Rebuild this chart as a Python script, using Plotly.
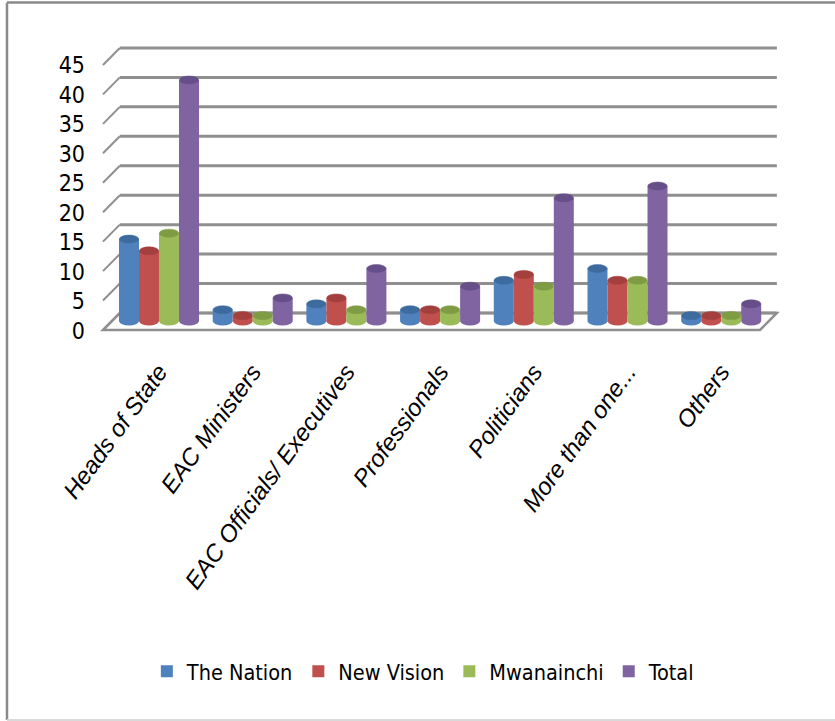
import plotly.graph_objects as go

categories = ["Heads of State", "EAC Ministers", "EAC Officials/ Executives",
              "Professionals", "Politicians", "More than one...", "Others"]
series_names = ["The Nation", "New Vision", "Mwanainchi", "Total"]
the_nation = [14, 2, 3, 2, 7, 9, 1]
new_vision = [12, 1, 4, 2, 8, 7, 1]
mwanainchi = [15, 1, 2, 2, 6, 7, 1]
total = [41, 4, 9, 6, 21, 23, 3]
y_ticks = [0, 5, 10, 15, 20, 25, 30, 35, 40, 45]

colors = ["#4F81BD", "#C0504D", "#9BBB59", "#8064A2"]
top_colors = ["#3E6B9E", "#A33F3C", "#7F9C44", "#664E88"]

series_values = [the_nation, new_vision, mwanainchi, total]

NARROW = "DejaVu Sans Condensed, Liberation Sans Narrow, sans-serif"
ITALIC = "Liberation Sans, Arial, sans-serif"

BARGAP = 0.146
n_series = len(series_values)
bw = (1 - BARGAP) / n_series

# layout geometry (pixels)
W, H = 835, 721
L, R, T, B = 100, 55, 40, 381
XMIN, XMAX = -0.6297, 6.6275
YMIN, YMAX = -3.14, 47.79
DEPTH = 1.443          # half depth of 3D box in y units
DX_BACK = 0.18         # back shift in x units
x_front_left = -0.598
x_back_left = x_front_left + DX_BACK
x_front_right = 6.414
x_back_right = x_front_right + DX_BACK

fig = go.Figure()
x_idx = list(range(len(categories)))
for name, vals, col in zip(series_names, series_values, colors):
    fig.add_trace(go.Bar(
        x=x_idx, y=vals, name=name, marker_color=col,
        marker_line=dict(width=0),
    ))

shapes = []
GRID = "#8f8f8f"
# floor
shapes.append(dict(
    type="path", xref="x", yref="y", layer="below",
    path=f"M{x_front_left},{-DEPTH} L{x_front_right},{-DEPTH} L{x_back_right},{DEPTH} L{x_back_left},{DEPTH} Z",
    fillcolor="white", line=dict(color=GRID, width=2.5)))
# gridlines on the back wall + diagonal wall lines
for v in y_ticks:
    shapes.append(dict(type="line", xref="x", yref="y", layer="below",
                       x0=x_back_left, x1=x_back_right, y0=v + DEPTH, y1=v + DEPTH,
                       line=dict(color=GRID, width=3)))
    shapes.append(dict(type="line", xref="x", yref="y", layer="below",
                       x0=x_front_left, x1=x_back_left, y0=v - DEPTH, y1=v + DEPTH,
                       line=dict(color=GRID, width=2)))

# cylinder ends
for j, (vals, col, tcol) in enumerate(zip(series_values, colors, top_colors)):
    off = (j - (n_series - 1) / 2) * bw
    for i, v in enumerate(vals):
        xc = i + off
        shapes.append(dict(type="circle", xref="x", yref="y", layer="below",
                           xsizemode="pixel", ysizemode="pixel",
                           xanchor=xc, yanchor=0,
                           x0=-9.7, x1=9.7, y0=-4, y1=4,
                           fillcolor=col, line=dict(width=0)))
        shapes.append(dict(type="circle", xref="x", yref="y", layer="above",
                           xsizemode="pixel", ysizemode="pixel",
                           xanchor=xc, yanchor=v,
                           x0=-9.7, x1=9.7, y0=-4, y1=4,
                           fillcolor=tcol, line=dict(color=tcol, width=0.5)))

# outer border
def px_to_paper_x(px):
    return (px - L) / (W - L - R)

def px_to_paper_y(py):
    return (H - B - py) / (H - T - B)

shapes.append(dict(type="line", xref="paper", yref="paper",
                   x0=px_to_paper_x(7), x1=px_to_paper_x(840),
                   y0=px_to_paper_y(2.5), y1=px_to_paper_y(2.5),
                   line=dict(color="#8a8a8a", width=2.5)))
shapes.append(dict(type="line", xref="paper", yref="paper",
                   x0=px_to_paper_x(7), x1=px_to_paper_x(7),
                   y0=px_to_paper_y(2.5), y1=px_to_paper_y(720),
                   line=dict(color="#8a8a8a", width=2.5)))
shapes.append(dict(type="line", xref="paper", yref="paper",
                   x0=px_to_paper_x(7), x1=px_to_paper_x(840),
                   y0=px_to_paper_y(720), y1=px_to_paper_y(720),
                   line=dict(color="#d9d9d9", width=2)))

fig.update_layout(
    width=W, height=H,
    margin=dict(l=L, r=R, t=T, b=B, pad=0),
    paper_bgcolor="white", plot_bgcolor="rgba(0,0,0,0)",
    barmode="group", bargap=BARGAP, bargroupgap=0,
    shapes=shapes,
    showlegend=True,
    legend=dict(orientation="h", xref="container", yref="container",
                x=0.507, xanchor="center", y=0.069, yanchor="middle",
                font=dict(family=NARROW, size=21.5, color="#000000"),
                itemwidth=30, traceorder="normal"),
    xaxis=dict(range=[XMIN, XMAX], tickmode="array", tickvals=x_idx,
               ticktext=[f"<i>{c}</i>" for c in categories],
               tickangle=-54, showgrid=False, zeroline=False, showline=False,
               ticks="", ticklabelstandoff=12,
               tickfont=dict(family=ITALIC, size=24, style="italic", color="#000000")),
    yaxis=dict(range=[YMIN, YMAX], tickmode="array", tickvals=y_ticks,
               showgrid=False, zeroline=False, showline=False, ticks="",
               ticklabelshift=9, ticklabelstandoff=14,
               tickfont=dict(family=NARROW, size=23, color="#000000")),
)

fig.write_html("out.html")
